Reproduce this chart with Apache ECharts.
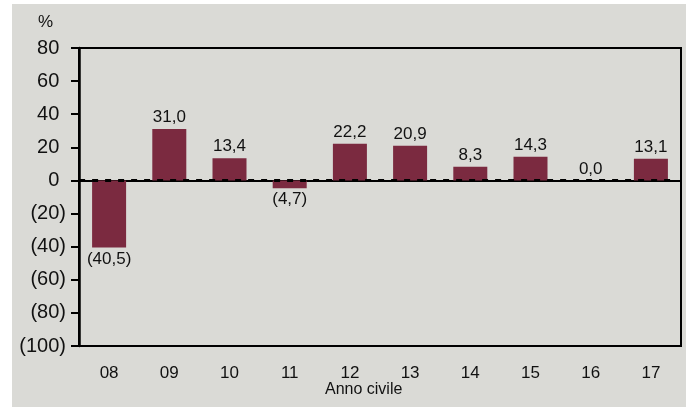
<!DOCTYPE html>
<html><head><meta charset="utf-8">
<script src="https://cdn.jsdelivr.net/npm/echarts@6/dist/echarts.min.js"></script>
<style>
html,body{margin:0;padding:0;background:#ffffff;}
#c{position:absolute;left:12px;top:4px;width:674px;height:403px;background:#dadad6;}
</style></head>
<body><div id="c"></div>
<script>
const categories = ['08','09','10','11','12','13','14','15','16','17'];
const values = [-40.5, 31.0, 13.4, -4.7, 22.2, 20.9, 8.3, 14.3, 0.0, 13.1];
const yTicks = {min: -100, max: 80, interval: 20};
const unitLabel = '%';
const xTitle = 'Anno civile';

const FONT = "'Liberation Sans',Arial,sans-serif";
function fmtNum(v, dec){
  const s = Math.abs(v).toFixed(dec).replace('.', ',');
  return v < 0 ? '(' + s + ')' : s;
}
const chart = echarts.init(document.getElementById('c'), null, {renderer:'canvas'});
chart.setOption({
  backgroundColor: '#dadad6',
  animation: false,
  grid: {left: 67, right: 5, top: 44, bottom: 61, show: true, borderColor: '#000', borderWidth: 2, backgroundColor: 'transparent'},
  xAxis: {
    type: 'category', data: categories,
    axisLine: {show: true, lineStyle: {color: '#000', width: 2}},
    axisTick: {show: false},
    axisLabel: {color: '#111', fontFamily: FONT, fontSize: 17, margin: 19}
  },
  yAxis: {
    type: 'value', min: yTicks.min, max: yTicks.max, interval: yTicks.interval,
    axisLine: {show: true, lineStyle: {color: '#000', width: 2.5}},
    axisTick: {show: true, length: 8, lineStyle: {color: '#000', width: 2}},
    splitLine: {show: false},
    axisLabel: {color: '#111', fontFamily: FONT, fontSize: 20, margin: 13,
      formatter: v => v < 0 ? fmtNum(v, 0) : fmtNum(v, 0) + '{h|)}',
      rich: {h: {color: 'rgba(0,0,0,0)', fontFamily: FONT, fontSize: 20}}}
  },
  graphic: [
    {type: 'text', left: 26, top: 10, style: {text: unitLabel, font: "17px " + FONT, fill: '#111'}},
    {type: 'text', left: 313, top: 378, style: {text: xTitle, font: "16px " + FONT, fill: '#111'}}
  ],
  series: [{
    type: 'bar', barWidth: 34,
    data: values.map(v => v < 0 ? {value: v, label: {position: 'bottom'}} : v),
    itemStyle: {color: '#7b2a40'},
    label: {show: true, position: 'top', distance: 3, color: '#111', fontFamily: FONT, fontSize: 17,
      formatter: p => fmtNum(p.value, 1)}
  }]
});
// zero reference line, positioned through the chart's own scale
function drawZero(){
  const y0 = chart.convertToPixel({yAxisIndex: 0}, 0);
  const xL = chart.convertToPixel({xAxisIndex: 0}, categories[0]) - 30;
  const xR = chart.convertToPixel({xAxisIndex: 0}, categories[categories.length-1]) + 20;
  chart.setOption({graphic: [
    {type: 'text', left: 26, top: 10, style: {text: unitLabel, font: "17px " + FONT, fill: '#111'}},
    {type: 'text', left: 313, top: 378, style: {text: xTitle, font: "16px " + FONT, fill: '#111'}},
    {type: 'line', z: 100, shape: {x1: xL, y1: y0, x2: xR, y2: y0},
      style: {stroke: '#000', lineWidth: 3, lineDash: [6, 7]}}
  ]}, {replaceMerge: ['graphic']});
}
drawZero();
</script></body></html>
